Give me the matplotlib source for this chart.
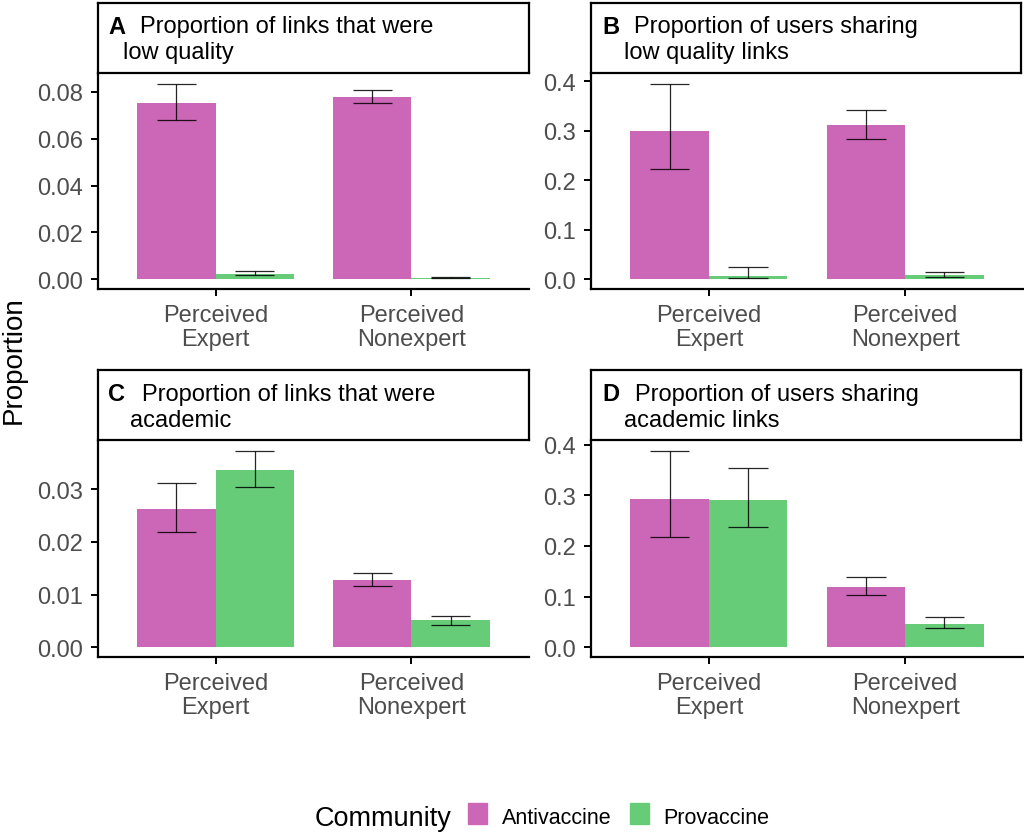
import matplotlib
matplotlib.use("Agg")
import matplotlib.pyplot as plt
from matplotlib.patches import Rectangle
import numpy as np

plt.rcParams['font.family'] = ['Liberation Sans', 'DejaVu Sans']

categories = ["Perceived\nExpert", "Perceived\nNonexpert"]
communities = ["Antivaccine", "Provaccine"]
colors = ["#CC66B7", "#66CC78"]

# Panel A: proportion of links that were low quality
A_anti = [0.0753, 0.0780]
A_anti_lo = [0.0680, 0.0752]
A_anti_hi = [0.0835, 0.0808]
A_pro = [0.0021, 0.0007]
A_pro_lo = [0.0016, 0.0006]
A_pro_hi = [0.0035, 0.0009]

# Panel B: proportion of users sharing low quality links
B_anti = [0.300, 0.311]
B_anti_lo = [0.2235, 0.283]
B_anti_hi = [0.395, 0.341]
B_pro = [0.0074, 0.0094]
B_pro_lo = [0.002, 0.0046]
B_pro_hi = [0.0255, 0.0155]

# Panel C: proportion of links that were academic
C_anti = [0.0262, 0.0127]
C_anti_lo = [0.0218, 0.0117]
C_anti_hi = [0.0312, 0.0140]
C_pro = [0.0337, 0.0051]
C_pro_lo = [0.0305, 0.0043]
C_pro_hi = [0.0373, 0.0060]

# Panel D: proportion of users sharing academic links
D_anti = [0.2934, 0.1197]
D_anti_lo = [0.2184, 0.103]
D_anti_hi = [0.388, 0.1394]
D_pro = [0.2908, 0.0467]
D_pro_lo = [0.238, 0.0382]
D_pro_hi = [0.354, 0.0605]

A_ticks = [0.00, 0.02, 0.04, 0.06, 0.08]
A_ticklabels = ["0.00", "0.02", "0.04", "0.06", "0.08"]
B_ticks = [0.0, 0.1, 0.2, 0.3, 0.4]
B_ticklabels = ["0.0", "0.1", "0.2", "0.3", "0.4"]
C_ticks = [0.00, 0.01, 0.02, 0.03]
C_ticklabels = ["0.00", "0.01", "0.02", "0.03"]
D_ticks = [0.0, 0.1, 0.2, 0.3, 0.4]
D_ticklabels = ["0.0", "0.1", "0.2", "0.3", "0.4"]

titles = [
    ("A", "Proportion of links that were", "low quality"),
    ("B", "Proportion of users sharing", "low quality links"),
    ("C", "Proportion of links that were", "academic"),
    ("D", "Proportion of users sharing", "academic links"),
]

W, H = 1024, 837
fig = plt.figure(figsize=(W / 100, H / 100), dpi=100)

def px_axes(left, top, right, bottom):
    return fig.add_axes([left / W, 1 - bottom / H, (right - left) / W, (bottom - top) / H])

TICK_COL = "#4D4D4D"

def panel(box, strip, data, ticks, ticklabels, title, text_off):
    left, top, right, bottom = box
    ax = px_axes(left, top, right, bottom)
    anti, anti_lo, anti_hi, pro, pro_lo, pro_hi = data
    x = np.arange(1, len(categories) + 1)
    bw = 0.4
    ax.bar(x - bw / 2, anti, width=bw, color=colors[0], zorder=2)
    ax.bar(x + bw / 2, pro, width=bw, color=colors[1], zorder=2)
    for xs, lo, hi in [(x - bw / 2, anti_lo, anti_hi), (x + bw / 2, pro_lo, pro_hi)]:
        ax.vlines(xs, lo, hi, color="black", lw=0.9, alpha=0.85, zorder=3)
        ax.hlines(lo, xs - 0.1, xs + 0.1, color="black", lw=0.9, alpha=0.85, zorder=3)
        ax.hlines(hi, xs - 0.1, xs + 0.1, color="black", lw=0.9, alpha=0.85, zorder=3)
    ymax = max(max(anti_hi), max(pro_hi), max(anti), max(pro))
    ax.set_ylim(-0.05 * ymax, ymax * 1.05)
    ax.set_xlim(0.4, 2.6)
    ax.set_xticks(x)
    ax.set_xticklabels(categories, fontsize=17, color=TICK_COL, linespacing=1.1)
    ax.set_yticks(ticks)
    ax.set_yticklabels(ticklabels, fontsize=17, color=TICK_COL)
    ax.tick_params(axis="both", length=5, width=1.4, color="black")
    ax.tick_params(axis="y", pad=6)
    ax.tick_params(axis="x", pad=6)
    for s in ["top", "right"]:
        ax.spines[s].set_visible(False)
    for s in ["left", "bottom"]:
        ax.spines[s].set_linewidth(1.6)
        ax.spines[s].set_color("black")
    # strip
    sl, st, sr, sb = strip
    sax = px_axes(sl, st, sr, sb)
    sax.set_xlim(0, sr - sl)
    sax.set_ylim(sb - st, 0)
    sax.set_xticks([])
    sax.set_yticks([])
    for s in sax.spines.values():
        s.set_linewidth(1.6)
        s.set_color("black")
    letter, l1, l2 = title
    xl, x1, x2 = text_off
    sax.text(xl, 30, letter, fontsize=17, fontweight="bold", va="baseline", ha="left")
    sax.text(x1, 30, l1, fontsize=17, va="baseline", ha="left")
    sax.text(x2, 56, l2, fontsize=17, va="baseline", ha="left")
    return ax

panel((98, 75, 529, 290), (98, 3.5, 529, 73.5),
      (A_anti, A_anti_lo, A_anti_hi, A_pro, A_pro_lo, A_pro_hi),
      A_ticks, A_ticklabels, titles[0], (10, 42, 25))
panel((591, 75, 1023, 290), (591, 3.5, 1021, 73.5),
      (B_anti, B_anti_lo, B_anti_hi, B_pro, B_pro_lo, B_pro_hi),
      B_ticks, B_ticklabels, titles[1], (11, 43, 33))
panel((98, 442, 529, 658), (98, 371, 529, 441),
      (C_anti, C_anti_lo, C_anti_hi, C_pro, C_pro_lo, C_pro_hi),
      C_ticks, C_ticklabels, titles[2], (10, 44, 32))
panel((591, 442, 1023, 658), (591, 371, 1021, 441),
      (D_anti, D_anti_lo, D_anti_hi, D_pro, D_pro_lo, D_pro_hi),
      D_ticks, D_ticklabels, titles[3], (11, 44, 33))

# y-axis title
fig.text(14 / W, 1 - 360 / H, "Proportion", rotation=90, fontsize=20,
         ha="center", va="center")

# legend
def fx(p):
    return p / W
def fy(p):
    return 1 - p / H

fig.text(fx(452), fy(826), "Community", fontsize=19.5, ha="right", va="baseline")
key_x = [468, 630]
lab_x = [502, 663]
for kx, lx, c, lab in zip(key_x, lab_x, colors, communities):
    fig.add_artist(Rectangle((fx(kx), fy(825)), 19 / W, 21 / H,
                             transform=fig.transFigure, color=c))
    fig.text(fx(lx), fy(824), lab, fontsize=15.5, ha="left", va="baseline")

fig.savefig("out.png", dpi=100)
